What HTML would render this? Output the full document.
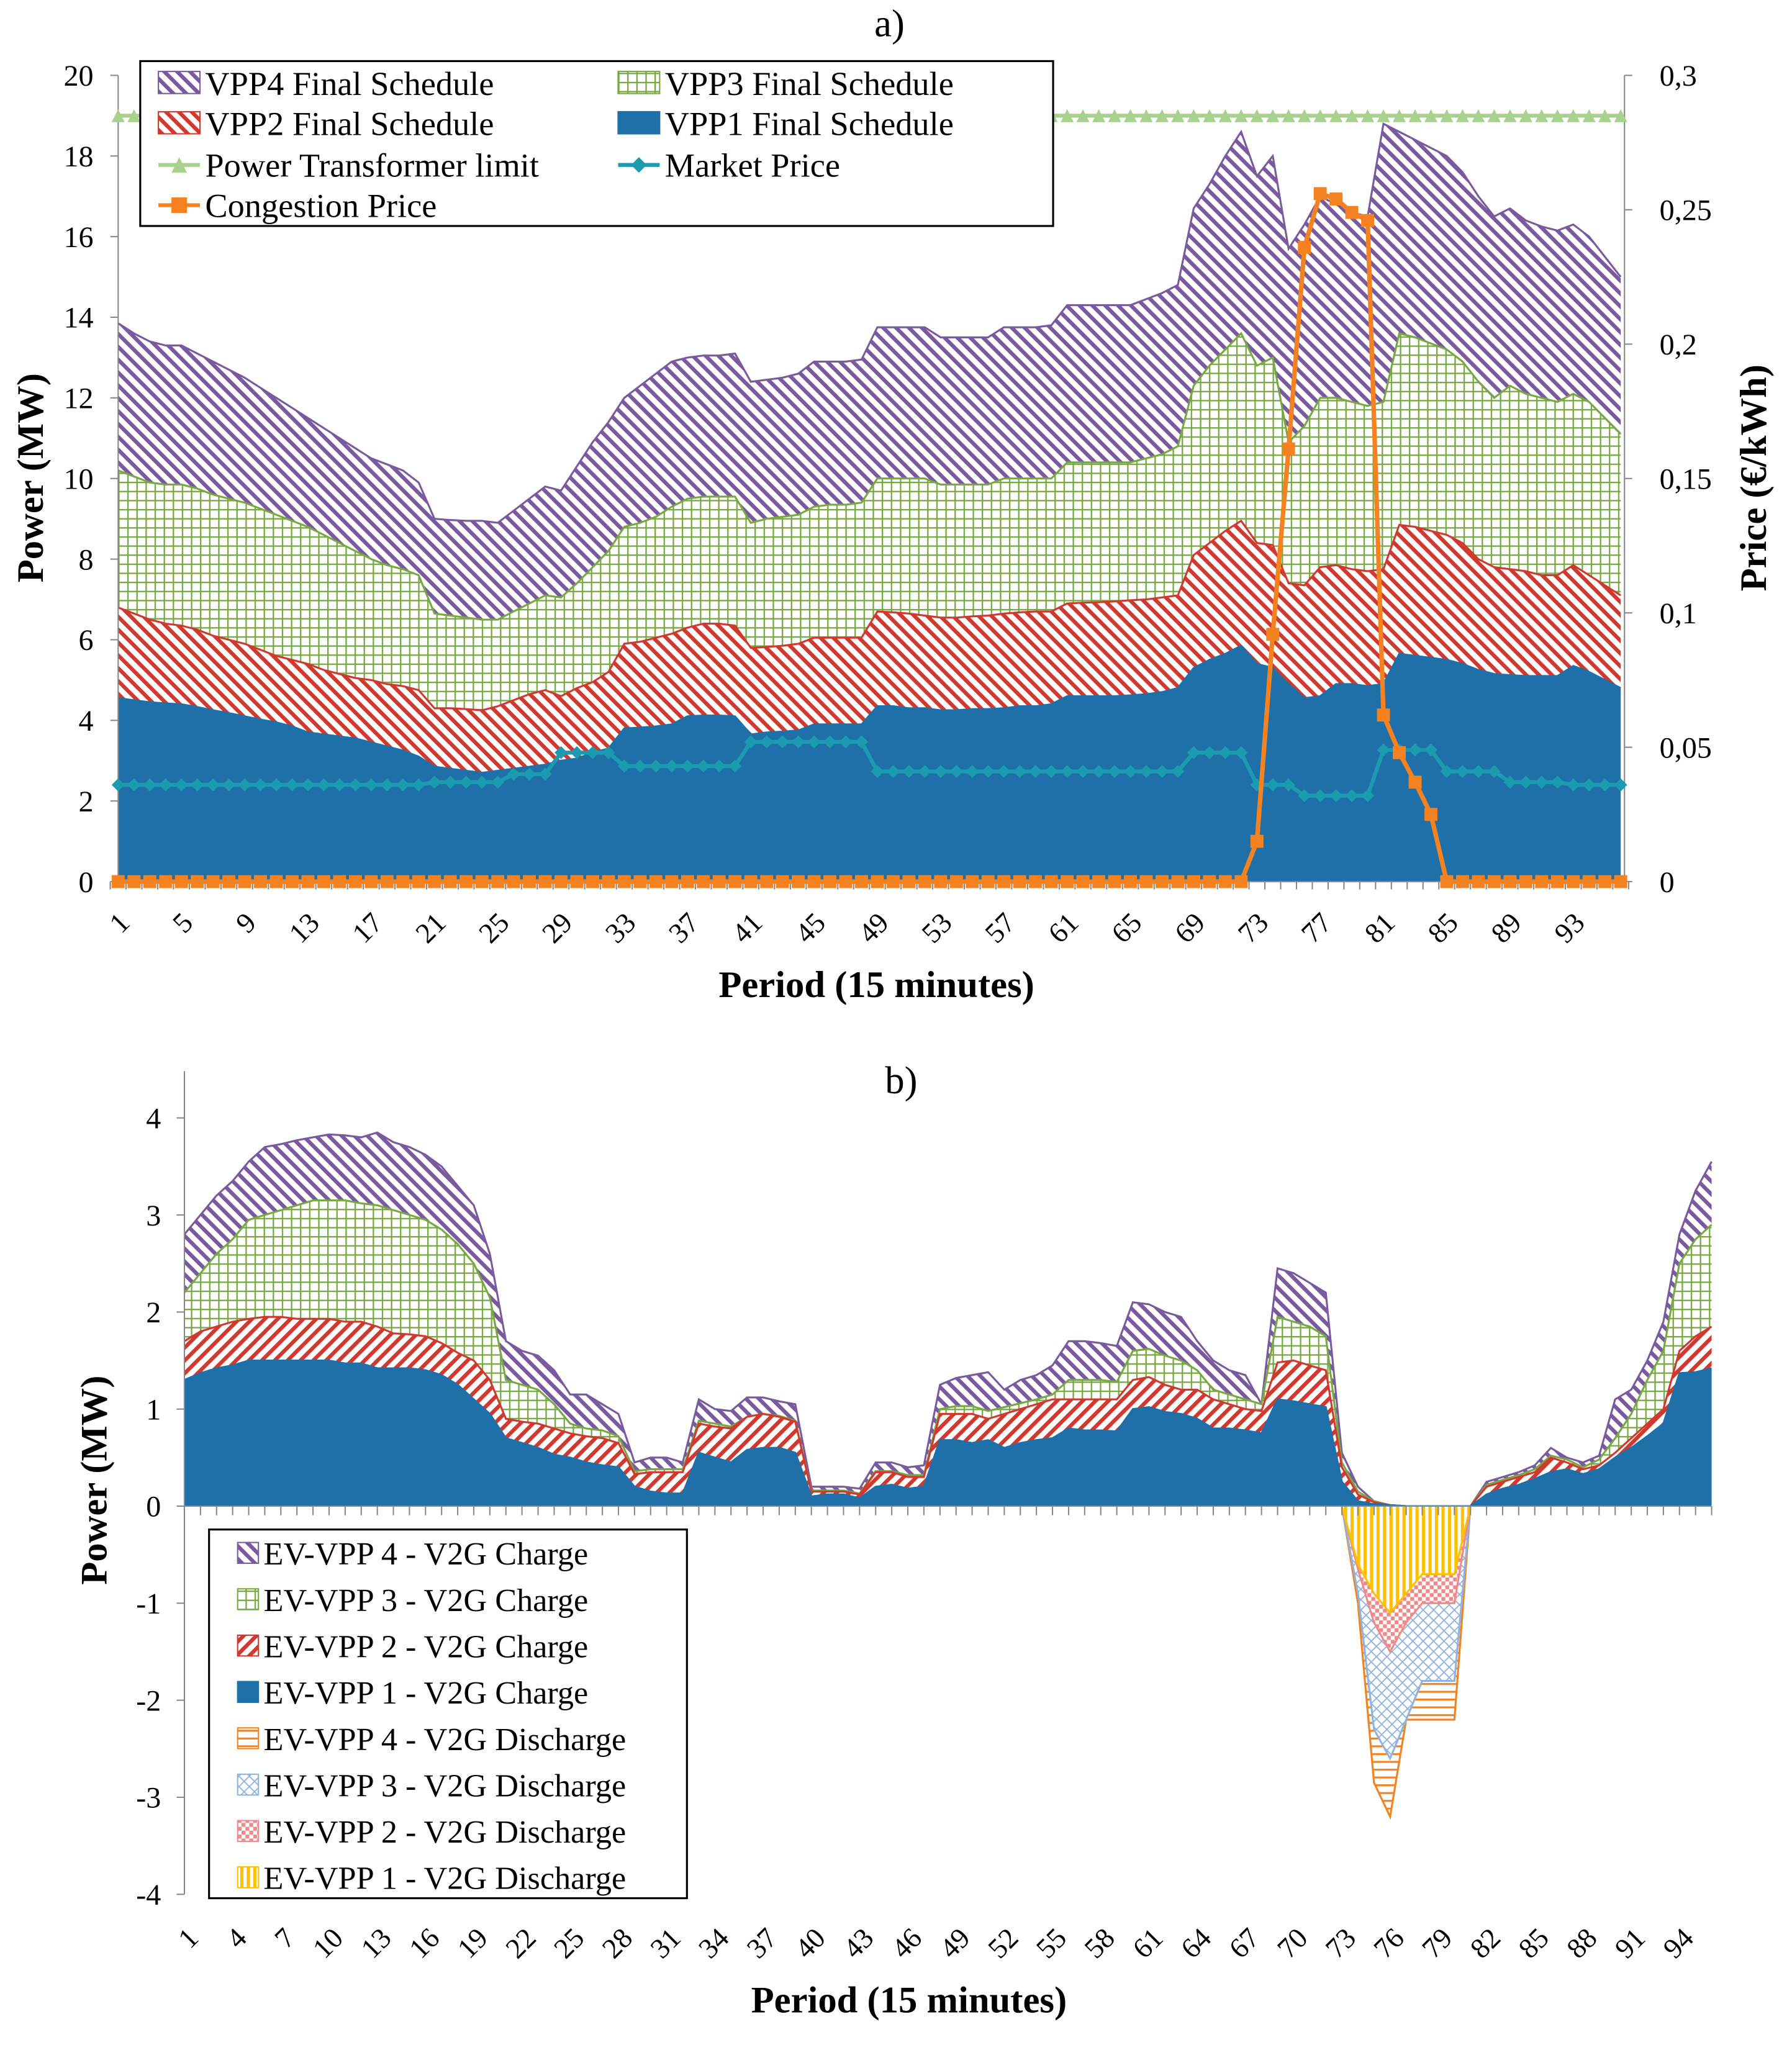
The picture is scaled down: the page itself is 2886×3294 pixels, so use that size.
<!DOCTYPE html>
<html><head><meta charset="utf-8"><style>
html,body{margin:0;padding:0;background:#fff;}
svg{display:block;font-family:"Liberation Serif",serif;}
</style></head><body>
<svg id="svg" width="2886" height="3294" viewBox="0 0 1380 1575" xmlns="http://www.w3.org/2000/svg">
<defs>
<pattern id="pPurple" patternUnits="userSpaceOnUse" width="7" height="7" patternTransform="rotate(-45)"><rect width="7" height="7" fill="#fff"/><rect width="3" height="7" fill="#7a5a9e"/></pattern>
<pattern id="pRed" patternUnits="userSpaceOnUse" width="7" height="7" patternTransform="rotate(-45)"><rect width="7" height="7" fill="#fff"/><rect width="3" height="7" fill="#d0392f"/></pattern>
<pattern id="pPurpleB" patternUnits="userSpaceOnUse" width="7" height="7" patternTransform="rotate(-45)"><rect width="7" height="7" fill="#fff"/><rect width="3" height="7" fill="#7a5a9e"/></pattern>
<pattern id="pRedB" patternUnits="userSpaceOnUse" width="7" height="7" patternTransform="rotate(45)"><rect width="7" height="7" fill="#fff"/><rect width="3" height="7" fill="#d0392f"/></pattern>
<pattern id="pGreen" patternUnits="userSpaceOnUse" width="7" height="7"><rect width="7" height="7" fill="#fff"/><path d="M0 0.5H7M0.5 0V7" stroke="#77a843" stroke-width="1.2"/></pattern>
<pattern id="pOrange" patternUnits="userSpaceOnUse" width="6" height="6"><rect width="6" height="6" fill="#fff"/><path d="M0 1H6" stroke="#f58220" stroke-width="1.5"/></pattern>
<pattern id="pBlueL" patternUnits="userSpaceOnUse" width="8" height="8"><rect width="8" height="8" fill="#fff"/><path d="M0 0L8 8M8 0L0 8" stroke="#8fb4de" stroke-width="0.9"/></pattern>
<pattern id="pPink" patternUnits="userSpaceOnUse" width="6" height="6"><rect width="6" height="6" fill="#fff"/><rect width="3" height="3" fill="#f08a8a"/><rect x="3" y="3" width="3" height="3" fill="#f08a8a"/></pattern>
<pattern id="pYellow" patternUnits="userSpaceOnUse" width="5" height="5"><rect width="5" height="5" fill="#fff"/><rect width="2.5" height="5" fill="#ffc000"/></pattern>
</defs>
<g id="gA"></g>
<g id="gB"></g>
</svg>
<script>
// ---- Chart a data (stack totals, MW) ----
const periodsA = Array.from({length:96},(_,i)=>i+1);
const vpp1Top = [4.55,4.5,4.45,4.42,4.4,4.33,4.25,4.18, 4.1,4.02,3.95,3.85,3.7,3.65,3.6,3.55, 3.45,3.35,3.25,3.1,2.85,2.8,2.75,2.7, 2.75,2.8,2.85,2.9,3.0,3.05,3.2,3.3, 3.8,3.82,3.85,3.9,4.1,4.12,4.12,4.1, 3.65,3.7,3.72,3.75,3.9,3.9,3.9,3.9, 4.35,4.35,4.3,4.3,4.25,4.25,4.28,4.28, 4.3,4.35,4.35,4.4,4.6,4.6,4.6,4.6, 4.62,4.65,4.7,4.8,5.3,5.5,5.65,5.85, 5.4,5.3,4.9,4.55,4.6,4.9,4.9,4.85, 4.9,5.65,5.6,5.55,5.5,5.4,5.25,5.15, 5.12,5.1,5.1,5.1,5.35,5.2,5.0,4.8];
const vpp2Top = [6.8,6.65,6.5,6.4,6.35,6.25,6.1,6.0, 5.9,5.75,5.6,5.5,5.4,5.25,5.15,5.05, 5.0,4.9,4.85,4.75,4.3,4.3,4.28,4.25, 4.35,4.5,4.65,4.75,4.6,4.8,4.95,5.2, 5.9,5.95,6.05,6.15,6.3,6.4,6.4,6.35, 5.8,5.82,5.85,5.9,6.05,6.05,6.05,6.05, 6.7,6.68,6.65,6.6,6.55,6.55,6.58,6.6, 6.65,6.68,6.7,6.7,6.9,6.92,6.93,6.95, 6.98,7.0,7.05,7.1,8.1,8.4,8.7,8.95, 8.4,8.35,7.4,7.35,7.8,7.85,7.75,7.7, 7.75,8.85,8.8,8.7,8.6,8.4,8.0,7.8, 7.75,7.7,7.6,7.6,7.85,7.6,7.35,7.1];
const vpp3Top = [10.2,10.05,9.9,9.85,9.85,9.75,9.6,9.5, 9.4,9.25,9.1,8.95,8.8,8.6,8.4,8.2, 8.0,7.85,7.75,7.6,6.65,6.6,6.55,6.5, 6.5,6.7,6.9,7.1,7.05,7.4,7.8,8.2, 8.8,8.9,9.05,9.3,9.5,9.55,9.55,9.55, 8.9,9.0,9.05,9.1,9.3,9.35,9.35,9.4, 10.0,10.0,10.0,10.0,9.85,9.85,9.85,9.85, 10.0,10.0,10.0,10.0,10.4,10.4,10.4,10.4, 10.4,10.5,10.6,10.8,12.3,12.8,13.2,13.6, 12.8,13.0,10.9,11.3,12.0,12.0,11.9,11.8, 11.9,13.6,13.5,13.35,13.2,12.9,12.4,12.0, 12.3,12.1,12.0,11.9,12.1,11.9,11.5,11.1];
const vpp4Top = [13.85,13.6,13.4,13.3,13.3,13.1,12.9,12.7, 12.5,12.25,12.0,11.75,11.5,11.25,11.0,10.75, 10.5,10.35,10.2,9.9,9.0,8.97,8.95,8.95, 8.9,9.2,9.5,9.8,9.7,10.3,10.9,11.4, 12.0,12.3,12.6,12.9,13.0,13.05,13.05,13.1, 12.4,12.45,12.5,12.6,12.9,12.9,12.9,12.95, 13.75,13.75,13.75,13.75,13.5,13.5,13.5,13.5, 13.75,13.75,13.75,13.8,14.3,14.3,14.3,14.3, 14.3,14.45,14.6,14.8,16.7,17.3,18.0,18.6, 17.5,18.0,15.7,16.3,17.0,16.8,16.6,16.5, 18.8,18.6,18.4,18.2,18.0,17.6,17.0,16.5, 16.7,16.4,16.25,16.15,16.3,16.0,15.5,15.0];
const transformerLimit = 19;
const marketPrice = [0.036,0.036,0.036,0.036,0.036,0.036,0.036,0.036,0.036,0.036,0.036,0.036,0.036,0.036,0.036,0.036,0.036,0.036,0.036,0.036, 0.037,0.037,0.037,0.037,0.037, 0.040,0.040,0.040, 0.048,0.048,0.048,0.048, 0.043,0.043,0.043,0.043,0.043,0.043,0.043,0.043, 0.052,0.052,0.052,0.052,0.052,0.052,0.052,0.052, 0.041,0.041,0.041,0.041,0.041,0.041,0.041,0.041,0.041,0.041,0.041,0.041,0.041,0.041,0.041,0.041,0.041,0.041,0.041,0.041, 0.048,0.048,0.048,0.048, 0.036,0.036,0.036, 0.032,0.032,0.032,0.032,0.032, 0.049,0.049,0.049,0.049, 0.041,0.041,0.041,0.041, 0.037,0.037,0.037,0.037,0.036,0.036,0.036,0.036];
const congestionPrice = [0,0,0,0,0,0,0,0,0,0,0,0,0,0,0,0,0,0,0,0,0,0,0,0,0,0,0,0,0,0,0,0,0,0,0,0,0,0,0,0,0,0,0,0,0,0,0,0,0,0,0,0,0,0,0,0,0,0,0,0,0,0,0,0,0,0,0,0,0,0,0,0, 0.015,0.092,0.161,0.236,0.256,0.254,0.249,0.246,0.062,0.048,0.037,0.025, 0,0,0,0,0,0,0,0,0,0,0,0];
const yTicksA = [0,2,4,6,8,10,12,14,16,18,20];
const yTicksRA = ["0","0,05","0,1","0,15","0,2","0,25","0,3"];
const xLabelsA = [1,5,9,13,17,21,25,29,33,37,41,45,49,53,57,61,65,69,73,77,81,85,89,93];

// ---- Chart b data (stack totals, MW) ----
const ev1Top = [1.3,1.37,1.42,1.45,1.5,1.5,1.5,1.5,1.5,1.5,1.47,1.47,1.42,1.42,1.42,1.4,1.35,1.25,1.1,0.95, 0.7,0.65,0.6,0.53,0.5,0.45,0.42,0.4,0.2,0.15,0.13,0.13,0.55,0.5,0.45,0.58,0.6,0.6,0.55,0.1, 0.12,0.12,0.08,0.2,0.22,0.18,0.2,0.68,0.68,0.65,0.68,0.6,0.65,0.68,0.7,0.8,0.78,0.78,0.77,1.0, 1.02,0.97,0.95,0.9,0.8,0.8,0.78,0.75,1.1,1.08,1.05,1.02,0.25,0.05,0.02,0.01,0,0,0,0, 0,0.12,0.18,0.22,0.28,0.35,0.38,0.33,0.38,0.5,0.6,0.72,0.85,1.37,1.38,1.42];
const ev2Top = [1.7,1.8,1.85,1.9,1.93,1.95,1.95,1.93,1.93,1.93,1.9,1.9,1.85,1.78,1.77,1.75,1.68,1.58,1.5,1.3, 0.9,0.87,0.85,0.8,0.75,0.72,0.7,0.65,0.33,0.35,0.35,0.35,0.85,0.82,0.8,0.92,0.95,0.92,0.87,0.15, 0.15,0.15,0.12,0.35,0.35,0.3,0.3,0.95,0.95,0.95,0.9,0.95,1.0,1.05,1.1,1.1,1.1,1.1,1.1,1.3, 1.33,1.25,1.2,1.2,1.1,1.05,1.0,0.98,1.48,1.5,1.45,1.4,0.4,0.12,0.04,0.01,0,0,0,0, 0,0.2,0.25,0.3,0.35,0.5,0.45,0.38,0.42,0.55,0.7,0.85,1.0,1.6,1.75,1.85];
const ev3Top = [2.2,2.4,2.6,2.75,2.95,3.0,3.05,3.1,3.15,3.15,3.15,3.12,3.1,3.05,3.0,2.95,2.85,2.7,2.5,2.15, 1.3,1.25,1.2,1.05,0.85,0.8,0.78,0.72,0.36,0.38,0.38,0.38,0.88,0.85,0.82,0.92,0.95,0.93,0.88,0.16, 0.16,0.16,0.13,0.36,0.36,0.32,0.32,1.0,1.03,1.03,0.98,1.02,1.06,1.1,1.15,1.3,1.3,1.3,1.28,1.6, 1.62,1.55,1.5,1.4,1.2,1.15,1.1,1.05,1.95,1.9,1.85,1.75,0.45,0.15,0.05,0.01,0,0,0,0, 0,0.22,0.27,0.32,0.38,0.52,0.48,0.4,0.48,0.7,0.95,1.3,1.6,2.5,2.75,2.9];
const ev4Top = [2.8,3.0,3.2,3.35,3.55,3.7,3.73,3.77,3.8,3.83,3.82,3.8,3.85,3.75,3.7,3.62,3.5,3.3,3.1,2.6, 1.7,1.6,1.55,1.4,1.15,1.15,1.05,0.95,0.45,0.5,0.5,0.45,1.1,1.0,0.98,1.12,1.12,1.08,1.05,0.2, 0.2,0.2,0.18,0.45,0.45,0.4,0.42,1.25,1.32,1.35,1.38,1.2,1.3,1.35,1.45,1.7,1.7,1.68,1.65,2.1, 2.08,2.0,1.95,1.7,1.5,1.4,1.35,1.05,2.45,2.4,2.3,2.2,0.55,0.2,0.05,0.01,0,0,0,0, 0,0.25,0.3,0.35,0.42,0.6,0.5,0.45,0.52,1.1,1.2,1.5,1.9,2.8,3.25,3.55];
const dischargePeriods = [73,74,75,76,77,78,79,80,81];
const ev1DisBottom = [0,-0.6,-0.9,-1.1,-0.9,-0.7,-0.7,-0.7,0];
const ev2DisBottom = [0,-0.65,-1.2,-1.5,-1.2,-1.0,-1.0,-1.0,0];
const ev3DisBottom = [0,-0.9,-2.3,-2.6,-2.2,-1.8,-1.8,-1.8,0];
const ev4DisBottom = [0,-1.0,-2.85,-3.2,-2.2,-2.2,-2.2,-2.2,0];
const yTicksB = [-4,-3,-2,-1,0,1,2,3,4];
const xLabelsB = [1,4,7,10,13,16,19,22,25,28,31,34,37,40,43,46,49,52,55,58,61,64,67,70,73,76,79,82,85,88,91,94];

const NS = "http://www.w3.org/2000/svg";
function mk(tag, attrs, parent){
  const e=document.createElementNS(NS,tag);
  for(const k in attrs) e.setAttribute(k,attrs[k]);
  parent.appendChild(e); return e;
}
function txt(parent, x, y, s, size, opts){
  const t=mk('text',Object.assign({x:x,y:y,'font-size':size,fill:'#000'},opts||{}),parent);
  t.textContent=s; return t;
}
const gA=document.getElementById('gA'), gB=document.getElementById('gB');

// ===== Chart a =====
const xa = p => 91 + (p-1)*12.18;
const ya = v => 679 - v*31.05;
const yr = v => 679 - v/0.3*621;
function areaA(top,bottom,fill,stroke,name){
  let pts=top.map((v,i)=>xa(i+1)+','+ya(v));
  let bpts=bottom?bottom.map((v,i)=>xa(i+1)+','+ya(v)).reverse():[xa(96)+','+ya(0),xa(1)+','+ya(0)];
  const pg=mk('polygon',{points:pts.concat(bpts).join(' '),fill:fill},gA);
  
  
  const pl=mk('polyline',{points:pts.join(' '),fill:'none',stroke:stroke,'stroke-width':1.5},gA);
  
  
}
areaA(vpp4Top,vpp3Top,'url(#pPurple)','#7a5a9e','vpp4-area');
areaA(vpp3Top,vpp2Top,'url(#pGreen)','#77a843','vpp3-area');
areaA(vpp2Top,vpp1Top,'url(#pRed)','#d0392f','vpp2-area');
areaA(vpp1Top,null,'#1f70a8','#1f70a8','vpp1-area');
let ax=mk('line',{x1:91,y1:58,x2:91,y2:679,stroke:'#888','stroke-width':1},gA);
 
ax=mk('line',{x1:1251,y1:58,x2:1251,y2:679,stroke:'#888','stroke-width':1},gA);
 
ax=mk('line',{x1:91,y1:679,x2:1251,y2:679,stroke:'#888','stroke-width':1},gA);
 
yTicksA.forEach(v=>{
  mk('line',{x1:85,y1:ya(v),x2:91,y2:ya(v),stroke:'#888'},gA);
  const t=txt(gA,72,ya(v)+8,String(v),23,{'text-anchor':'end'});
   
});
yTicksRA.forEach((s,i)=>{
  const v=i*0.05;
  mk('line',{x1:1251,y1:yr(v),x2:1257,y2:yr(v),stroke:'#888'},gA);
  const t=txt(gA,1278,yr(v)+8,s,23);
   
});
for(let p=1;p<=97;p++){ mk('line',{x1:xa(p)-6.09,y1:679,x2:xa(p)-6.09,y2:685,stroke:'#888'},gA); }
xLabelsA.forEach(p=>{
  const t=txt(gA,0,0,String(p),22,{'text-anchor':'end',transform:`translate(${xa(p)+10},${712}) rotate(-45)`});
   
});
const tl=mk('polyline',{points:periodsA.map(p=>xa(p)+','+ya(transformerLimit)).join(' '),fill:'none',stroke:'#a9d18e','stroke-width':3},gA);
 
periodsA.forEach(p=>{
  const m=mk('polygon',{points:`${xa(p)-5},${ya(transformerLimit)+5} ${xa(p)+5},${ya(transformerLimit)+5} ${xa(p)},${ya(transformerLimit)-5}`,fill:'#a9d18e'},gA);
  
  
});
const mp=mk('polyline',{points:marketPrice.map((v,i)=>xa(i+1)+','+yr(v)).join(' '),fill:'none',stroke:'#1b9bb0','stroke-width':3},gA);
 
marketPrice.forEach((v,i)=>{
  const x=xa(i+1),y=yr(v);
  const m=mk('polygon',{points:`${x},${y-5} ${x+5},${y} ${x},${y+5} ${x-5},${y}`,fill:'#1b9bb0'},gA);
  
  
});
const cp=mk('polyline',{points:congestionPrice.map((v,i)=>xa(i+1)+','+yr(v)).join(' '),fill:'none',stroke:'#f58220','stroke-width':3.5},gA);
 
congestionPrice.forEach((v,i)=>{
  const m=mk('rect',{x:xa(i+1)-5,y:yr(v)-5,width:10,height:10,fill:'#f58220'},gA);
  
  
});
const lgA=mk('g',{},gA);
 
mk('rect',{x:108,y:47,width:703,height:127,fill:'#fff',stroke:'#000','stroke-width':1.5},lgA);
function legA(x,y,kind,fill,color,label){
  const g=mk('g',{},lgA);
   
  if(kind==='box'){ mk('rect',{x:x,y:y-9,width:32,height:17,fill:fill,stroke:color,'stroke-width':1},g); }
  else if(kind==='tri'){ mk('line',{x1:x,y1:y,x2:x+32,y2:y,stroke:color,'stroke-width':3},g); mk('polygon',{points:`${x+10},${y+6} ${x+22},${y+6} ${x+16},${y-6}`,fill:color},g);}
  else if(kind==='dia'){ mk('line',{x1:x,y1:y,x2:x+32,y2:y,stroke:color,'stroke-width':3},g); mk('polygon',{points:`${x+16},${y-6} ${x+22},${y} ${x+16},${y+6} ${x+10},${y}`,fill:color},g);}
  else { mk('line',{x1:x,y1:y,x2:x+32,y2:y,stroke:color,'stroke-width':3},g); mk('rect',{x:x+10,y:y-6,width:12,height:12,fill:color},g);}
  txt(g,x+36,y+9,label,26);
}
legA(122,64,'box','url(#pPurple)','#7a5a9e','VPP4 Final Schedule');
legA(476,64,'box','url(#pGreen)','#77a843','VPP3 Final Schedule');
legA(122,95,'box','url(#pRed)','#d0392f','VPP2 Final Schedule');
legA(476,95,'box','#1f70a8','#1f70a8','VPP1 Final Schedule');
legA(122,127,'tri','','#a9d18e','Power Transformer limit');
legA(476,127,'dia','','#1b9bb0','Market Price');
legA(122,158,'sq','','#f58220','Congestion Price');
let t=txt(gA,685,28,'a)',30,{'text-anchor':'middle'});  
t=txt(gA,675,768,'Period (15 minutes)',29,{'text-anchor':'middle','font-weight':'bold'});  
t=txt(gA,0,0,'Power (MW)',29,{'text-anchor':'middle','font-weight':'bold',transform:'translate(33,368) rotate(-90)'});  
t=txt(gA,0,0,'Price (€/kWh)',29,{'text-anchor':'middle','font-weight':'bold',transform:'translate(1360,368) rotate(-90)'});  

// ===== Chart b =====
const xb = p => 142 + (p-1)*12.38;
const yb = v => 1160 - v*74.75;
function areaB(top,bottom,fill,stroke,name){
  let pts=top.map((v,i)=>xb(i+1)+','+yb(v));
  let bpts=bottom?bottom.map((v,i)=>xb(i+1)+','+yb(v)).reverse():[xb(96)+','+yb(0),xb(1)+','+yb(0)];
  const pg=mk('polygon',{points:pts.concat(bpts).join(' '),fill:fill},gB);
  
  
  const pl=mk('polyline',{points:pts.join(' '),fill:'none',stroke:stroke,'stroke-width':1.5},gB);
  
  
}
areaB(ev4Top,ev3Top,'url(#pPurpleB)','#7a5a9e','ev-vpp4-charge-area');
areaB(ev3Top,ev2Top,'url(#pGreen)','#77a843','ev-vpp3-charge-area');
areaB(ev2Top,ev1Top,'url(#pRedB)','#d0392f','ev-vpp2-charge-area');
areaB(ev1Top,null,'#1f70a8','#1f70a8','ev-vpp1-charge-area');
function disArea(bottom,top,fill,stroke,name){
  const pts=bottom.map((v,i)=>xb(dischargePeriods[i])+','+yb(v));
  const tp=top?top.map((v,i)=>xb(dischargePeriods[i])+','+yb(v)).reverse():[xb(dischargePeriods[dischargePeriods.length-1])+','+yb(0),xb(dischargePeriods[0])+','+yb(0)];
  const pg=mk('polygon',{points:pts.concat(tp).join(' '),fill:fill},gB);
  
  
  const pl=mk('polyline',{points:pts.join(' '),fill:'none',stroke:stroke,'stroke-width':1.5},gB);
  
  
}
disArea(ev4DisBottom,ev3DisBottom,'url(#pOrange)','#f58220','ev-vpp4-discharge-area');
disArea(ev3DisBottom,ev2DisBottom,'url(#pBlueL)','#8fb4de','ev-vpp3-discharge-area');
disArea(ev2DisBottom,ev1DisBottom,'url(#pPink)','#f08a8a','ev-vpp2-discharge-area');
disArea(ev1DisBottom,null,'url(#pYellow)','#ffc000','ev-vpp1-discharge-area');
ax=mk('line',{x1:142,y1:825,x2:142,y2:1459,stroke:'#888'},gB);
 
ax=mk('line',{x1:142,y1:1160,x2:1318,y2:1160,stroke:'#888'},gB);
 
yTicksB.forEach(v=>{
  mk('line',{x1:136,y1:yb(v),x2:142,y2:yb(v),stroke:'#888'},gB);
  const t=txt(gB,124,yb(v)+8,String(v),23,{'text-anchor':'end'});
   
});
for(let p=1;p<=96;p++){ mk('line',{x1:xb(p),y1:1160,x2:xb(p),y2:1167,stroke:'#888'},gB); }
xLabelsB.forEach(p=>{
  const t=txt(gB,0,0,String(p),22,{'text-anchor':'end',transform:`translate(${xb(p)+12},${1494}) rotate(-45)`});
   
});
const lgB=mk('g',{},gB);
 
mk('rect',{x:161,y:1178,width:368,height:284,fill:'#fff',stroke:'#000','stroke-width':1.5},lgB);
const legBItems=[['url(#pPurpleB)','#7a5a9e','EV-VPP 4 - V2G Charge'],['url(#pGreen)','#77a843','EV-VPP 3 - V2G Charge'],['url(#pRedB)','#d0392f','EV-VPP 2 - V2G Charge'],['#1f70a8','#1f70a8','EV-VPP 1 - V2G Charge'],['url(#pOrange)','#f58220','EV-VPP 4 - V2G Discharge'],['url(#pBlueL)','#8fb4de','EV-VPP 3 - V2G Discharge'],['url(#pPink)','#f08a8a','EV-VPP 2 - V2G Discharge'],['url(#pYellow)','#ffc000','EV-VPP 1 - V2G Discharge']];
legBItems.forEach((it,i)=>{
  const y=1196+i*35.7;
  const g=mk('g',{},lgB);
   
  mk('rect',{x:183,y:y-8,width:16,height:16,fill:it[0],stroke:it[1],'stroke-width':1},g);
  txt(g,203,y+9,it[2],25);
});
t=txt(gB,694,842,'b)',30,{'text-anchor':'middle'});  
t=txt(gB,700,1550,'Period (15 minutes)',29,{'text-anchor':'middle','font-weight':'bold'});  
t=txt(gB,0,0,'Power (MW)',29,{'text-anchor':'middle','font-weight':'bold',transform:'translate(82,1140) rotate(-90)'});  
</script>
</body></html>
